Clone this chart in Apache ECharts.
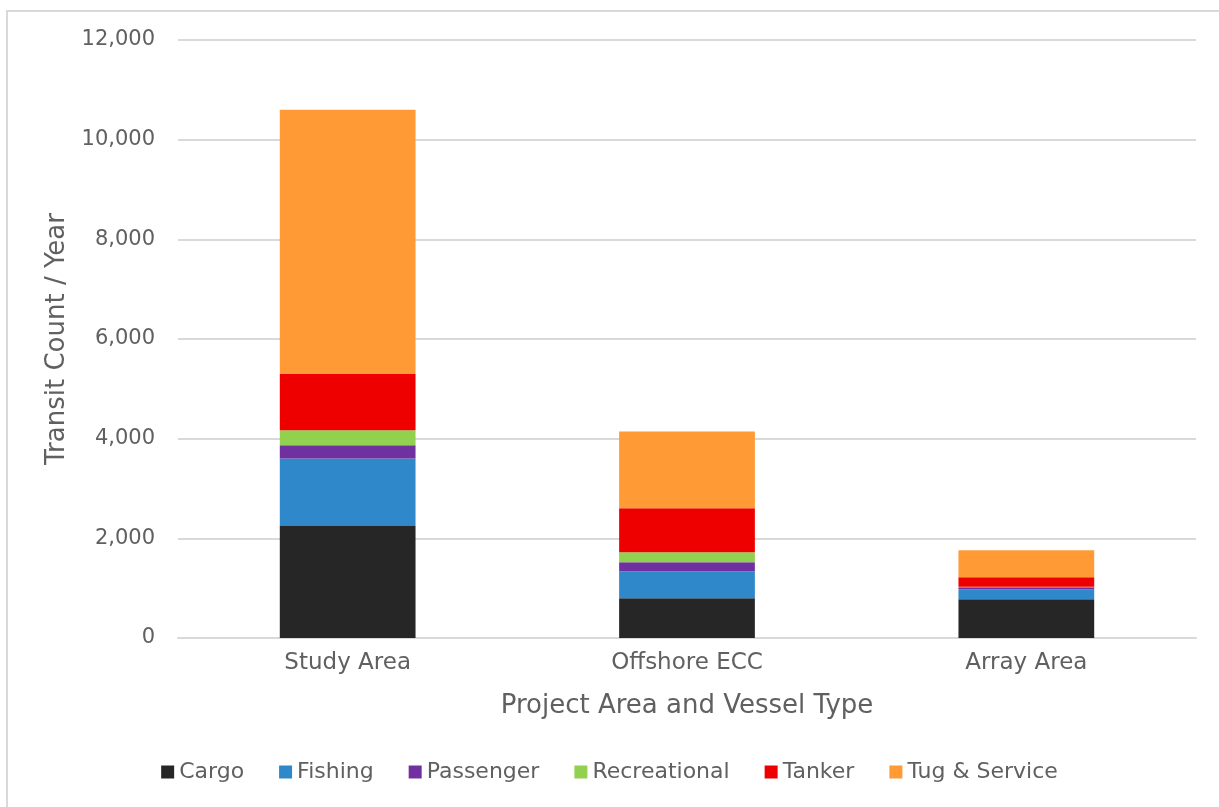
<!DOCTYPE html>
<html>
<head>
<meta charset="utf-8">
<script src="https://cdn.jsdelivr.net/npm/echarts@6/dist/echarts.min.js"></script>
<style>
  html, body { margin: 0; padding: 0; background: #ffffff; }
  #chart { width: 1219px; height: 807px; }
</style>
</head>
<body>
<div id="chart"></div>
<script>
// Annual vessel transits by project area, stacked by vessel type
const categories = ['Study Area', 'Offshore ECC', 'Array Area'];
const cargo        = [2250, 800, 780];
const fishing      = [1350, 540, 200];
const passenger    = [270, 180, 40];
const recreational = [300, 200, 10];
const tanker       = [1130, 885, 190];
const tugService   = [5300, 1540, 540];

const seriesDefs = [
  { name: 'Cargo', data: cargo, color: '#262626' },
  { name: 'Fishing', data: fishing, color: '#2f88c9' },
  { name: 'Passenger', data: passenger, color: '#7030a0' },
  { name: 'Recreational', data: recreational, color: '#92d050' },
  { name: 'Tanker', data: tanker, color: '#ee0000' },
  { name: 'Tug & Service', data: tugService, color: '#ff9a35' }
];

const textColor = '#606060';
const fontFamily = '"DejaVu Sans", "Noto Sans", sans-serif';

const chart = echarts.init(document.getElementById('chart'), null, { renderer: 'canvas' });
chart.setOption({
  backgroundColor: '#ffffff',
  animation: false,
  graphic: [{
    type: 'rect',
    shape: { x: 7, y: 11, width: 1300, height: 900 },
    style: { fill: 'none', stroke: '#d9d9d9', lineWidth: 2 },
    silent: true,
    z: -1
  }],
  grid: { left: 178, right: 23, top: 40, bottom: 169, containLabel: false },
  legend: {
    bottom: 19,
    left: 'center',
    icon: 'rect',
    itemWidth: 13,
    itemHeight: 13,
    itemGap: 35,
    textStyle: { color: textColor, fontSize: 22, fontFamily },
    data: seriesDefs.map(s => s.name)
  },
  xAxis: {
    type: 'category',
    data: categories,
    name: 'Project Area and Vessel Type',
    nameLocation: 'middle',
    nameGap: 55,
    nameTextStyle: { color: textColor, fontSize: 26, fontFamily },
    axisLine: { lineStyle: { color: '#d9d9d9', width: 2 } },
    axisTick: { show: false },
    axisLabel: { color: textColor, fontSize: 23, fontFamily, margin: 14 }
  },
  yAxis: {
    type: 'value',
    min: 0,
    max: 12000,
    interval: 2000,
    name: 'Transit Count / Year',
    nameLocation: 'middle',
    nameRotate: 90,
    nameGap: 105,
    nameTextStyle: { color: textColor, fontSize: 26, fontFamily },
    axisLine: { show: false },
    axisTick: { show: false },
    axisLabel: {
      color: textColor,
      fontSize: 21,
      fontFamily,
      margin: 23,
      formatter: v => v.toLocaleString('en-US')
    },
    splitLine: { lineStyle: { color: '#d9d9d9', width: 2 } }
  },
  series: seriesDefs.map(s => ({
    name: s.name,
    type: 'bar',
    stack: 'total',
    barWidth: '40%',
    data: s.data,
    itemStyle: { color: s.color }
  }))
});
</script>
</body>
</html>
